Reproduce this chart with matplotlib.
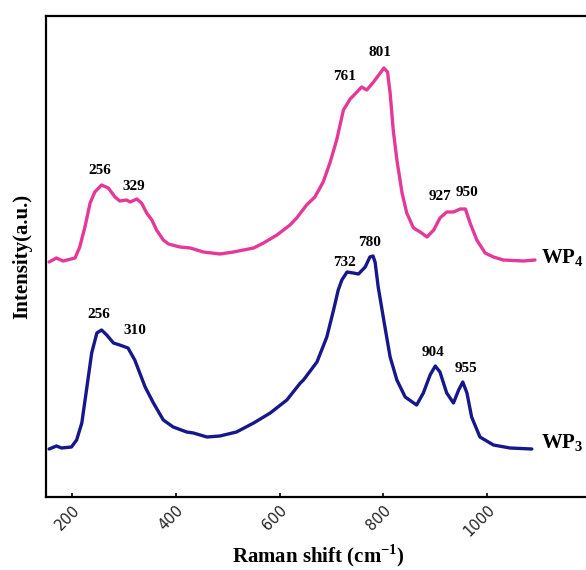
import numpy as np
import matplotlib.pyplot as plt

plt.rcParams['mathtext.fontset'] = 'custom'
plt.rcParams['mathtext.rm'] = 'Liberation Serif:bold'
plt.rcParams['mathtext.bf'] = 'Liberation Serif:bold'

# Raman spectra (cm-1, intensity in a.u., WP4 offset above WP3)
wp4_x = [156, 170, 183, 206, 215, 225, 235, 244, 257, 270, 283, 292, 305, 312,
         325, 334, 344, 354, 363, 376, 386, 408, 428, 453, 485, 511, 550, 569,
         595, 620, 633, 652, 668, 684, 697, 710, 723, 736, 749, 758, 768, 781,
         794, 801, 808, 813, 819, 826, 836, 845, 858, 871, 884, 897, 909, 922,
         935, 948, 958, 967, 980, 996, 1012, 1031, 1070, 1092]
wp4_y = [235, 239, 236, 239, 250, 270, 294, 305, 312, 309, 300, 296, 297, 295,
         298, 294, 284, 277, 267, 257, 253, 250, 249, 245, 243, 245, 249, 254,
         262, 272, 279, 292, 300, 315, 334, 357, 387, 398, 405, 410, 407, 415,
         424, 429, 425, 404, 367, 337, 304, 284, 269, 265, 260, 267, 279, 285,
         285, 288, 288, 274, 257, 244, 240, 237, 236, 237]

wp3_x = [156, 170, 180, 199, 209, 219, 228, 238, 248, 257, 267, 280, 292, 308,
         321, 341, 357, 376, 395, 421, 434, 460, 485, 517, 550, 582, 614, 640,
         646, 672, 691, 704, 713, 720, 730, 742, 752, 765, 774, 780, 784, 790,
         803, 813, 826, 842, 864, 877, 890, 900, 909, 922, 935, 945, 953, 961,
         970, 986, 1012, 1044, 1086]
wp3_y = [48, 51, 49, 50, 57, 74, 107, 144, 164, 167, 162, 154, 152, 149,
         137, 110, 94, 77, 70, 65, 64, 60, 61, 65, 74, 84, 97, 114,
         117, 135, 160, 187, 207, 217, 225, 224, 223, 230, 240, 241, 235, 210,
         170, 140, 117, 100, 92, 104, 122, 131, 125, 104, 94, 107, 115, 104,
         80, 60, 52, 49, 48]

wp4_peaks = [256, 329, 761, 801, 927, 950]
wp4_label_y = [326, 310, 421, 445, 300, 304]
wp4_label_dx = [-2, -10, -35, -7, -18, 12]

wp3_peaks = [256, 310, 732, 780, 904, 955]
wp3_label_y = [182, 167, 235, 254, 144, 129]
wp3_label_dx = [-5, 11, -6, -7, -8, 5]

fig = plt.figure(figsize=(5.86, 5.70), dpi=100)
ax = fig.add_axes([46/586, 73/570, 545/586, 481/570])

ax.plot(wp4_x, wp4_y, color='#E5399A', lw=2.4, solid_capstyle='round',
        solid_joinstyle='round')
ax.plot(wp3_x, wp3_y, color='#17178C', lw=2.4, solid_capstyle='round',
        solid_joinstyle='round')

serif = 'Liberation Serif'
for p, y, dx in zip(wp4_peaks, wp4_label_y, wp4_label_dx):
    ax.text(p + dx, y, str(p), ha='center', va='center', fontsize=11,
            fontweight='bold', family=serif)
for p, y, dx in zip(wp3_peaks, wp3_label_y, wp3_label_dx):
    ax.text(p + dx, y, str(p), ha='center', va='center', fontsize=11,
            fontweight='bold', family=serif)

ax.text(1104, 239, r'WP$_4$', ha='left', va='center', fontsize=15,
        fontweight='bold', family=serif)
ax.text(1104, 54, r'WP$_3$', ha='left', va='center', fontsize=15,
        fontweight='bold', family=serif)

ax.set_xlim(150, 1200)
ax.set_ylim(0, 481)
ax.set_xticks([200, 400, 600, 800, 1000])
ax.set_yticks([])
ax.tick_params(axis='x', direction='in', length=3, width=1.2, labelsize=10.5,
               labelcolor='#222222', pad=4)
for lbl in ax.get_xticklabels():
    lbl.set_rotation(45)
    lbl.set_ha('right')
    lbl.set_rotation_mode('anchor')
ax.spines['right'].set_visible(False)
for s in ['left', 'top', 'bottom']:
    ax.spines[s].set_linewidth(1.6)

ax.set_xlabel(r'Raman shift (cm$^{-1}$)', fontsize=15, fontweight='bold',
              family=serif, labelpad=2)
ax.set_ylabel('Intensity(a.u.)', fontsize=15, fontweight='bold',
              family=serif, labelpad=10)

fig.savefig('out.png', dpi=100)
